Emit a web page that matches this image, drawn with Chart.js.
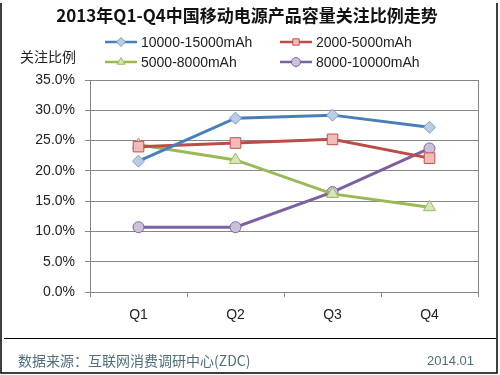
<!DOCTYPE html>
<html>
<head>
<meta charset="utf-8">
<script src="https://cdn.jsdelivr.net/npm/chart.js@4"></script>
<style>
  html, body { margin: 0; padding: 0; background: #fff; }
  #wrap { width: 500px; height: 375px; position: relative; }
</style>
</head>
<body>
<div id="wrap"><canvas id="myChart" width="500" height="375"></canvas></div>
<script>
// dados
const quarters = ['Q1', 'Q2', 'Q3', 'Q4'];
const seriesNames = ['10000-15000mAh', '2000-5000mAh', '5000-8000mAh', '8000-10000mAh'];
const cap10to15k = [21.6, 28.7, 29.2, 27.2];
const cap2to5k = [24.0, 24.6, 25.2, 22.1];
const cap5to8k = [24.3, 21.8, 16.2, 14.0];
const cap8to10k = [10.7, 10.7, 16.5, 23.7];
const yTicks = [0, 5, 10, 15, 20, 25, 30, 35];

const titleText = '2013年Q1-Q4中国移动电源产品容量关注比例走势';
const yTitle = '关注比例';
const sourceText = '数据来源：互联网消费调研中心(ZDC)';
const dateText = '2014.01';

const fontFamily = '"Liberation Sans", "Noto Sans CJK SC", sans-serif';
const cjkFont = '"Noto Sans CJK SC", sans-serif';

function makeSet(label, data, line, fill, edge, style, radius) {
    return {
        label: label,
        data: data,
        borderColor: line,
        backgroundColor: fill,
        pointBackgroundColor: fill,
        pointBorderColor: edge,
        pointBorderWidth: 1,
        pointStyle: style,
        pointRadius: radius,
        borderWidth: 3,
        tension: 0
    };
}

// legenda, título e rodapé desenhados à mão
const decorPlugin = {
    id: 'decor',
    afterDraw(chart) {
        const ctx = chart.ctx;
        const area = chart.chartArea;
        ctx.save();

        // borda direita da área do gráfico
        ctx.strokeStyle = '#868686';
        ctx.lineWidth = 1;
        ctx.beginPath();
        ctx.moveTo(Math.round(area.right) + 0.5, area.top);
        ctx.lineTo(Math.round(area.right) + 0.5, area.bottom + 5);
        ctx.stroke();

        // título
        ctx.fillStyle = '#111';
        ctx.font = 'bold 17px ' + cjkFont;
        ctx.textAlign = 'center';
        ctx.textBaseline = 'middle';
        ctx.fillText(titleText, 247, 16);

        // título do eixo y
        ctx.font = '14px ' + cjkFont;
        ctx.textAlign = 'left';
        ctx.fillStyle = '#222';
        ctx.fillText(yTitle, 20, 57);

        // legenda (2 colunas)
        const pos = [[105, 42], [280, 42], [105, 62], [280, 62]];
        chart.data.datasets.forEach((ds, i) => {
            const [x, y] = pos[i];
            ctx.strokeStyle = ds.borderColor;
            ctx.lineWidth = 2.5;
            ctx.beginPath();
            ctx.moveTo(x, y);
            ctx.lineTo(x + 32, y);
            ctx.stroke();
            ctx.fillStyle = ds.backgroundColor;
            ctx.strokeStyle = ds.pointBorderColor;
            ctx.lineWidth = 1;
            Chart.helpers.drawPoint(ctx, { pointStyle: ds.pointStyle, radius: 4.5, borderWidth: 1 }, x + 16, y);
            ctx.fillStyle = '#222';
            ctx.font = '14px ' + fontFamily;
            ctx.textAlign = 'left';
            ctx.fillText(ds.label, x + 36, y + 1);
        });

        // rodapé
        ctx.strokeStyle = '#000';
        ctx.lineWidth = 1;
        ctx.beginPath();
        ctx.moveTo(4, 338.5);
        ctx.lineTo(496, 338.5);
        ctx.stroke();

        ctx.fillStyle = '#4f6f7d';
        ctx.font = '14px ' + cjkFont;
        ctx.textAlign = 'left';
        ctx.fillText(sourceText, 18, 361);
        ctx.font = '13px ' + fontFamily;
        ctx.textAlign = 'right';
        ctx.fillText(dateText, 474, 361);

        // moldura da imagem
        ctx.strokeStyle = '#000';
        ctx.lineWidth = 1.5;
        ctx.beginPath();
        ctx.moveTo(1, 3);
        ctx.lineTo(1, 373);
        ctx.lineTo(497, 373);
        ctx.lineTo(497, 3);
        ctx.stroke();

        ctx.restore();
    }
};

const canvas = document.getElementById('myChart');
const chart = new Chart(canvas.getContext('2d'), {
    type: 'line',
    data: {
        labels: quarters,
        datasets: [
            makeSet(seriesNames[0], cap10to15k, '#4a7ebb', '#b9cde5', '#7a9cc8', 'rectRot', 6),
            makeSet(seriesNames[1], cap2to5k, '#be4b48', '#f2bcbb', '#c0504d', 'rect', 7.5),
            makeSet(seriesNames[2], cap5to8k, '#98b954', '#d7e4bd', '#9bbb59', 'triangle', 7),
            makeSet(seriesNames[3], cap8to10k, '#7d60a0', '#ccc1da', '#8064a2', 'circle', 5.5)
        ]
    },
    options: {
        responsive: false,
        animation: false,
        devicePixelRatio: 1,
        layout: { padding: { top: 80, right: 22, bottom: 43, left: 0 } },
        plugins: {
            legend: { display: false },
            title: { display: false },
            tooltip: { enabled: false }
        },
        scales: {
            x: {
                offset: true,
                grid: {
                    offset: true,
                    drawOnChartArea: false,
                    color: '#868686',
                    tickLength: 5
                },
                border: { color: '#868686' },
                ticks: {
                    color: '#222',
                    padding: 10,
                    font: { family: fontFamily, size: 14 }
                },
                afterFit: (scale) => { scale.height = 40; }
            },
            y: {
                min: 0,
                max: 35,
                afterBuildTicks: (scale) => {
                    scale.ticks = yTicks.map(v => ({ value: v }));
                },
                grid: { color: '#868686', tickLength: 5 },
                border: { color: '#868686' },
                ticks: {
                    color: '#222',
                    padding: 10,
                    font: { family: fontFamily, size: 14 },
                    callback: (v) => v.toFixed(1) + '%'
                },
                afterFit: (scale) => { scale.width = 90; }
            }
        }
    },
    plugins: [decorPlugin]
});
</script>
</body>
</html>
